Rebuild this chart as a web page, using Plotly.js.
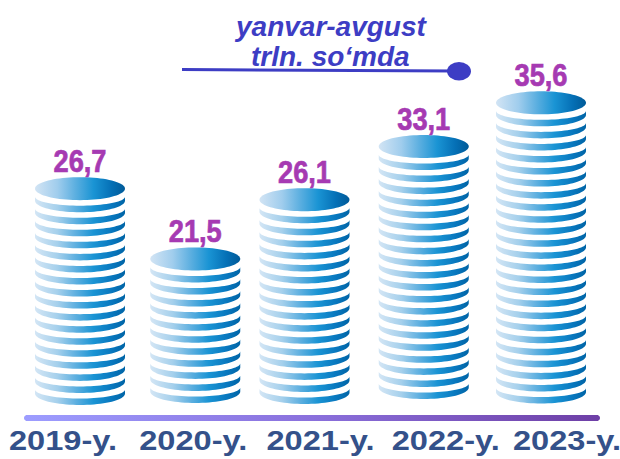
<!DOCTYPE html>
<html><head><meta charset="utf-8">
<script src="https://cdn.plot.ly/plotly-3.0.1.min.js"></script>
<style>html,body{margin:0;padding:0;background:#fff}#c{width:620px;height:459px}</style>
</head><body><div id="c"></div>
<script>
const categories = ["2019-y.","2020-y.","2021-y.","2022-y.","2023-y."];
const values = [26.7,21.5,26.1,33.1,35.6];
const valueLabels = ["26,7","21,5","26,1","33,1","35,6"];
const layersAboveBase = [17,11,16,20,24];
const titleLines = ["yanvar-avgust","trln. so‘mda"];

// layout constants (pixels on the 620x459 page)
const W=620,H=459,plotBottom=421;
const colStep=115.25,col0=80,pxPerLayer=12.05,basePx=392;
const columnNudge=[0,0,-6,-2,0], baseNudge=[1.5,-0.5,0.5,-4.5,0];
const labelCentres=[-17,-2,10,20,26];
const a=45/colStep,b=11.5/pxPerLayer;
const innerShift=4/pxPerLayer, innerB=9/pxPerLayer;
const xOf=p=>(p-col0)/colStep, yOf=p=>(basePx-p)/pxPerLayer;
const N=40;
const discScale=[[0,'#d2e4f4'],[0.25,'#a0cded'],[0.45,'#5cafe0'],[0.65,'#1a94d4'],[0.85,'#0570b6'],[1,'#005a98']];
const ringScale=[[0,'#d4e6f5'],[0.25,'#a5d0ec'],[0.45,'#5fb0e0'],[0.65,'#1a94d4'],[0.85,'#0878bf'],[1,'#0064a6']];

const traces=[];
categories.forEach((c,i)=>{
  const cx=i+columnNudge[i]/colStep, base=-baseNudge[i]/pxPerLayer, n=layersAboveBase[i];
  const rx=[],ry=[];
  for(let k=0;k<n;k++){
    const cy=base+k;
    for(let t=0;t<=N;t++){const th=Math.PI*t/N;rx.push(cx-a*Math.cos(th));ry.push(cy-b*Math.sin(th));}
    for(let t=N;t>=0;t--){const th=Math.PI*t/N;rx.push(cx-a*Math.cos(th));ry.push(cy+innerShift-innerB*Math.sin(th));}
    rx.push(rx[rx.length-1]);ry.push(ry[ry.length-1]);
    rx.push(null);ry.push(null);
  }
  traces.push({x:rx,y:ry,mode:'none',fill:'toself',type:'scatter',hoverinfo:'skip',showlegend:false,
    fillgradient:{type:'horizontal',colorscale:ringScale}});
  const dx=[],dy=[];
  for(let t=0;t<=2*N;t++){const th=Math.PI*t/N;dx.push(cx+a*Math.cos(th));dy.push(base+n+b*Math.sin(th));}
  traces.push({x:dx,y:dy,mode:'none',fill:'toself',type:'scatter',hoverinfo:'skip',showlegend:false,
    fillgradient:{type:'horizontal',colorscale:discScale}});
});

// value labels
traces.push({type:'scatter',mode:'text',showlegend:false,hoverinfo:'skip',
  x:categories.map((c,i)=>i+columnNudge[i]/colStep),
  y:layersAboveBase.map((n,i)=>n-baseNudge[i]/pxPerLayer+0.72),
  text:valueLabels,customdata:values,textposition:'top center',
  textfont:{family:'"Liberation Sans",Arial,sans-serif',size:32,color:'#a63ab2',weight:700}});

// baseline with rounded ends
(function(){
  const x0=27,x1=597,yc=418,r=3,px=[],py=[];
  for(let t=0;t<=12;t++){const th=-Math.PI/2+Math.PI*t/12;px.push(x1+r*Math.cos(th));py.push(yc+r*Math.sin(th));}
  for(let t=0;t<=12;t++){const th=Math.PI/2+Math.PI*t/12;px.push(x0+r*Math.cos(th));py.push(yc+r*Math.sin(th));}
  traces.push({x:px.map(xOf),y:py.map(yOf),mode:'none',fill:'toself',type:'scatter',hoverinfo:'skip',showlegend:false,
    fillgradient:{type:'horizontal',colorscale:[[0,'#9d9dff'],[0.5,'#8a70dc'],[1,'#6e3fa6']]}});
})();

const titleFont={family:'"Liberation Sans",Arial,sans-serif',size:28,color:'#3d3dc4',weight:700,style:'italic'};
const layout={
  width:W,height:H,margin:{l:0,r:0,t:0,b:H-plotBottom},paper_bgcolor:'#fff',plot_bgcolor:'rgba(0,0,0,0)',
  showlegend:false,
  xaxis:{range:[xOf(0),xOf(W)],showgrid:false,zeroline:false,showline:false,ticks:'',
    tickmode:'array',tickvals:labelCentres.map((d,i)=>i+d/colStep),ticktext:categories,tickangle:0,
    tickfont:{family:'"Liberation Sans",Arial,sans-serif',size:28,color:'#34518a',weight:700},fixedrange:true},
  yaxis:{range:[yOf(plotBottom),yOf(0)],showgrid:false,zeroline:false,showline:false,showticklabels:false,ticks:'',fixedrange:true},
  shapes:[
    {type:'line',xref:'paper',yref:'paper',x0:182/W,x1:455/W,y0:1-69.5/plotBottom,y1:1-71/plotBottom,line:{color:'#3d3dc4',width:3}},
    {type:'circle',xref:'paper',yref:'paper',x0:447/W,x1:471/W,y0:1-62/plotBottom,y1:1-80.5/plotBottom,fillcolor:'#3d3dc4',line:{width:0}}
  ],
  annotations:[
    {text:titleLines[0],xref:'paper',yref:'paper',x:331/W,y:1-27/plotBottom,xanchor:'center',yanchor:'middle',showarrow:false,font:titleFont},
    {text:titleLines[1],xref:'paper',yref:'paper',x:331/W,y:1-56/plotBottom,xanchor:'center',yanchor:'middle',showarrow:false,font:titleFont}
  ]
};
Plotly.newPlot('c',traces,layout,{displayModeBar:false,staticPlot:true}).then(gd=>{
  // the reference's lettering is horizontally stretched/condensed: fit real text to its measured widths
  const fit=(sel,w)=>gd.querySelectorAll(sel).forEach(t=>{t.setAttribute('textLength',w);t.setAttribute('lengthAdjust','spacingAndGlyphs');});
  fit('.xtick text',108);
  fit('.textpoint text',53);
  gd.querySelectorAll('.textpoint text').forEach(t=>{t.style.stroke='#a63ab2';t.style.strokeWidth='0.7px';});
});
</script></body></html>
